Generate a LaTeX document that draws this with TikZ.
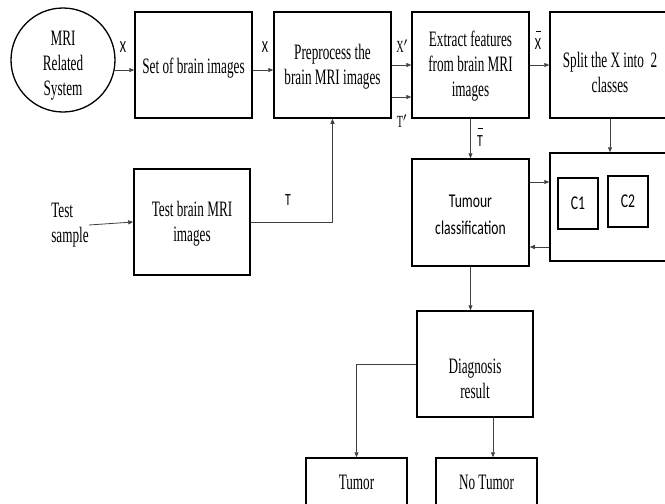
\documentclass[tikz,border=0pt]{standalone}
\usepackage{fontspec}
\setmainfont[FakeStretch=0.6]{Liberation Serif}
\newfontfamily\calfont[FakeStretch=0.7]{Carlito}
\usetikzlibrary{arrows.meta,calc}
\tikzset{
  box/.style={draw=black, line width=1.5pt, minimum width=117pt, minimum height=106pt, inner sep=0pt},
  smallbox/.style={draw=black, line width=1.2pt, minimum width=40pt, minimum height=51pt, inner sep=0pt, font=\calfont\fontsize{19.5}{22}\selectfont},
  txt/.style={align=center, inner sep=0pt, font=\fontsize{22}{25}\selectfont},
  stxt/.style={align=center, inner sep=0pt, font=\calfont\fontsize{19.5}{27}\selectfont},
  lab/.style={inner sep=0pt, font=\calfont\fontsize{17}{20}\selectfont},
  slab/.style={inner sep=0pt, font=\fontsize{17}{20}\selectfont},
  conn/.style={draw=black!75, line width=0.8pt, -{Triangle[length=5pt,width=4pt]}},
  line/.style={draw=black!75, line width=0.8pt}
}
\begin{document}
\begin{tikzpicture}[x=1pt,y=-1pt]
\useasboundingbox (0,0) rectangle (665,504);
% boxes
\node[circle, draw=black, line width=1.3pt, minimum size=104pt, inner sep=0pt] (circ) at (63,60) {};
\node[txt] (circT) at (63,66) {MRI\\Related\\System};
\node[box] (set) at (193.5,65) {};
\node[txt] (setT) at (193.5,68) {Set of brain images};
\node[box] (pre) at (332.5,65) {};
\node[txt] (preT) at (332.5,67) {Preprocess the\\brain MRI images};
\node[box] (ext) at (470.5,65) {};
\node[txt] (extT) at (470.5,66) {Extract features\\from brain MRI\\images};
\node[box, minimum width=120pt] (split) at (610,65) {};
\node[txt] (splitT) at (610,72) {Split the X into\ \ 2\\classes};
\node[box, minimum width=116pt] (test) at (192,222) {};
\node[txt] (testT) at (192,224) {Test brain MRI\\images};
\node[txt, align=left] (ts) at (70,225) {Test\\sample};
\node[box, minimum height=107pt] (tum) at (470.5,212.5) {};
\node[stxt] (tumT) at (470.5,215) {Tumour\\classification};
\node[box, minimum width=120pt, minimum height=108pt] (cls) at (610,207) {};
\node[smallbox] (c1) at (578,203.5) {C1};
\node[smallbox] (c2) at (628,201.5) {C2};
\node[box, minimum width=116pt] (diag) at (475,364) {};
\node[txt] (diagT) at (475,379) {Diagnosis\\result};
\node[box, minimum width=101pt, minimum height=50pt] (tumor) at (356.5,483) {};
\node[txt] (tumorT) at (356.5,482) {Tumor};
\node[box, minimum width=101pt, minimum height=50pt] (notumor) at (486.5,483) {};
\node[txt] (notumorT) at (486.5,482) {No Tumor};
% connectors
\draw[conn] (circ.-11) -- (circ.-11 -| set.west);
\draw[conn] ([yshift=-5pt]set.east) -- ([yshift=-5pt]pre.west);
\draw[conn] (pre.east) -- (ext.west);
\draw[conn] ([yshift=-32pt]pre.east) -- ([yshift=-32pt]ext.west);
\draw[conn] (ext.east) -- (split.west);
\draw[conn] (ts.east) -- (test.west);
\draw[conn] (test.east) -| (pre.south);
\draw[conn] (ext.south) -- (ext.south |- tum.north);
\draw[conn] (split.south) -- (split.south |- cls.north);
\draw[conn] (tum.east |- 0,182) -- (cls.west |- 0,182);
\draw[conn] (cls.west |- 0,247) -- (tum.east |- 0,247);
\draw[conn] (tum.south) -- (tum.south |- diag.north);
\draw[conn] (diag.west) -| (tumor.north);
\draw[conn] ([xshift=18pt]diag.south) -- ([xshift=18pt]diag.south |- notumor.north);
% labels
\node[lab] (lx1) at (123,47) {X};
\node[lab] (lx2) at (265,47) {X};
\node[slab] (lxp) at (402,46) {X$'$};
\node[slab] (ltp) at (402,121) {T$'$};
\node[lab] (lxb) at (538,40) {\shortstack{\rule{5pt}{0.7pt}\\[4pt]X}};
\node[lab] (ltb) at (480,137) {\shortstack{\rule{5pt}{0.7pt}\\[4pt]T}};
\node[lab] (lt) at (288,200) {T};
\end{tikzpicture}
\end{document}
